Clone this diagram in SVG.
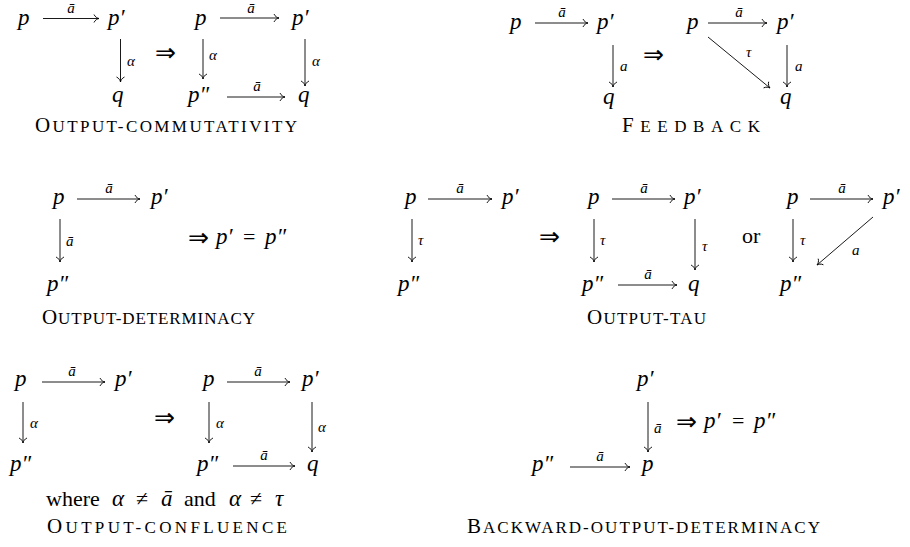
<svg xmlns="http://www.w3.org/2000/svg" width="910" height="547" viewBox="0 0 910 547">
<style>
  .m { font-family: "Liberation Serif", "DejaVu Serif", serif; font-style: italic; font-size: 23px; fill: #000; }
  .r { font-family: "Liberation Serif", "DejaVu Serif", serif; font-style: normal; font-size: 22px; fill: #000; }
  .imp { font-family: "DejaVu Sans", "Liberation Serif", sans-serif; font-weight: 200; font-style: normal; font-size: 25px; fill: #000; }
  .l { font-family: "Liberation Serif", "DejaVu Serif", serif; font-style: italic; font-size: 15px; fill: #000; }
  .cap { font-family: "Liberation Serif", "DejaVu Serif", serif; font-size: 21px; fill: #000; }
  .sc { font-size: 17px; }
  .a { fill: none; stroke: #000; stroke-width: 0.9; marker-end: url(#to); }
</style>
<defs>
  <marker id="to" markerUnits="userSpaceOnUse" viewBox="-6 -5 7 10" refX="0" refY="0" markerWidth="7" markerHeight="10" orient="auto">
    <path d="M-5,-4 C-4,-1.5 -1.5,-0.3 0,0 C-1.5,0.3 -4,1.5 -5,4" fill="none" stroke="#000" stroke-width="0.9"/>
  </marker>
</defs>

<!-- ============ OUTPUT-COMMUTATIVITY ============ -->
<g id="oc">
  <g id="oc-p"><text class="m" x="18" y="25">p</text></g>
  <g id="oc-p1"><text class="m" x="108" y="25">p′</text></g>
  <g id="oc-q"><text class="m" x="112" y="102">q</text></g>
  <g id="oc-imp"><text class="imp" x="155" y="61">⇒</text></g>
  <g id="oc-rp"><text class="m" x="195" y="25">p</text></g>
  <g id="oc-rp1"><text class="m" x="292" y="25">p′</text></g>
  <g id="oc-rp2"><text class="m" x="188" y="102">p″</text></g>
  <g id="oc-rq"><text class="m" x="298" y="102">q</text></g>
  <g id="oc-cap"><text class="cap" x="35" y="132" textLength="262" lengthAdjust="spacing">O<tspan class="sc">UTPUT-COMMUTATIVITY</tspan></text></g>
</g>

<!-- ============ FEEDBACK ============ -->
<g id="fb">
  <g id="fb-p"><text class="m" x="510" y="29">p</text></g>
  <g id="fb-p1"><text class="m" x="597" y="29">p′</text></g>
  <g id="fb-q"><text class="m" x="603" y="104">q</text></g>
  <g id="fb-imp"><text class="imp" x="643" y="63">⇒</text></g>
  <g id="fb-rp"><text class="m" x="687" y="29">p</text></g>
  <g id="fb-rp1"><text class="m" x="777" y="29">p′</text></g>
  <g id="fb-rq"><text class="m" x="780" y="104">q</text></g>
  <g id="fb-cap"><text class="cap" x="622" y="132" textLength="138" lengthAdjust="spacing">F<tspan class="sc">EEDBACK</tspan></text></g>
</g>

<!-- ============ OUTPUT-DETERMINACY ============ -->
<g id="od">
  <g id="od-p"><text class="m" x="53" y="204">p</text></g>
  <g id="od-p1"><text class="m" x="151" y="204">p′</text></g>
  <g id="od-p2"><text class="m" x="47" y="291">p″</text></g>
  <g id="od-eq"><text class="imp" x="188" y="246">⇒</text><text class="m" x="216" y="244">p′</text><text class="r" x="243" y="244">=</text><text class="m" x="265" y="244">p″</text></g>
  <g id="od-cap"><text class="cap" x="42" y="324" textLength="213" lengthAdjust="spacing">O<tspan class="sc">UTPUT-DETERMINACY</tspan></text></g>
</g>

<!-- ============ OUTPUT-TAU ============ -->
<g id="ot">
  <g id="ot-p"><text class="m" x="405" y="204">p</text></g>
  <g id="ot-p1"><text class="m" x="502" y="204">p′</text></g>
  <g id="ot-p2"><text class="m" x="398" y="291">p″</text></g>
  <g id="ot-imp"><text class="imp" x="539" y="245">⇒</text></g>
  <g id="ot-mp"><text class="m" x="588" y="204">p</text></g>
  <g id="ot-mp1"><text class="m" x="684" y="204">p′</text></g>
  <g id="ot-mp2"><text class="m" x="582" y="291">p″</text></g>
  <g id="ot-mq"><text class="m" x="688" y="291">q</text></g>
  <g id="ot-or"><text class="r" x="742" y="243">or</text></g>
  <g id="ot-rp"><text class="m" x="787" y="204">p</text></g>
  <g id="ot-rp1"><text class="m" x="883" y="204">p′</text></g>
  <g id="ot-rp2"><text class="m" x="780" y="291">p″</text></g>
  <g id="ot-cap"><text class="cap" x="587" y="324" textLength="119" lengthAdjust="spacing">O<tspan class="sc">UTPUT-TAU</tspan></text></g>
</g>

<!-- ============ OUTPUT-CONFLUENCE ============ -->
<g id="ocf">
  <g id="ocf-p"><text class="m" x="15" y="386">p</text></g>
  <g id="ocf-p1"><text class="m" x="115" y="386">p′</text></g>
  <g id="ocf-p2"><text class="m" x="10" y="471">p″</text></g>
  <g id="ocf-imp"><text class="imp" x="154" y="426">⇒</text></g>
  <g id="ocf-rp"><text class="m" x="203" y="386">p</text></g>
  <g id="ocf-rp1"><text class="m" x="302" y="386">p′</text></g>
  <g id="ocf-rp2"><text class="m" x="197" y="471">p″</text></g>
  <g id="ocf-rq"><text class="m" x="307" y="471">q</text></g>
  <g id="ocf-cond"><text class="r" y="506" font-size="23"><tspan x="46">where</tspan><tspan class="m" x="112">α</tspan><tspan x="136">≠</tspan><tspan class="m" x="161">ā</tspan><tspan x="184">and</tspan><tspan class="m" x="229">α</tspan><tspan x="250">≠</tspan><tspan class="m" x="275">τ</tspan></text></g>
  <g id="ocf-cap"><text class="cap" x="47" y="533" textLength="240" lengthAdjust="spacing">O<tspan class="sc">UTPUT-CONFLUENCE</tspan></text></g>
</g>

<!-- ============ BACKWARD-OUTPUT-DETERMINACY ============ -->
<g id="bod">
  <g id="bod-p1"><text class="m" x="637" y="386">p′</text></g>
  <g id="bod-p2"><text class="m" x="532" y="471">p″</text></g>
  <g id="bod-p"><text class="m" x="642" y="471">p</text></g>
  <g id="bod-eq"><text class="imp" x="676" y="430">⇒</text><text class="m" x="704" y="428">p′</text><text class="r" x="732" y="428">=</text><text class="m" x="754" y="428">p″</text></g>
  <g id="bod-cap"><text class="cap" x="467" y="533" textLength="353" lengthAdjust="spacing">B<tspan class="sc">ACKWARD-OUTPUT-DETERMINACY</tspan></text></g>
</g>

<!-- ============ CONNECTORS ============ -->
<g id="connectors">
  <!-- OC left -->
  <line class="a" x1="43" y1="18.5" x2="99" y2="18.5"/>
  <text class="l" x="71" y="13" text-anchor="middle">ā</text>
  <line class="a" x1="120.5" y1="39" x2="120.5" y2="82"/>
  <text class="l" x="127" y="66">α</text>
  <!-- OC right -->
  <line class="a" x1="220" y1="18" x2="279" y2="18"/>
  <text class="l" x="251" y="13" text-anchor="middle">ā</text>
  <line class="a" x1="203" y1="39" x2="203" y2="79"/>
  <text class="l" x="209" y="60">α</text>
  <line class="a" x1="305" y1="39" x2="305" y2="86"/>
  <text class="l" x="312" y="66">α</text>
  <line class="a" x1="227" y1="97" x2="285" y2="97"/>
  <text class="l" x="257" y="91" text-anchor="middle">ā</text>

  <!-- FB left -->
  <line class="a" x1="535" y1="23" x2="588" y2="23"/>
  <text class="l" x="562" y="17" text-anchor="middle">ā</text>
  <line class="a" x1="613" y1="45" x2="613" y2="87"/>
  <text class="l" x="620" y="71">a</text>
  <!-- FB right -->
  <line class="a" x1="708" y1="23" x2="767" y2="23"/>
  <text class="l" x="739" y="17" text-anchor="middle">ā</text>
  <line class="a" x1="708" y1="37" x2="770" y2="88"/>
  <text class="l" x="746" y="57">τ</text>
  <line class="a" x1="787" y1="45" x2="787" y2="87"/>
  <text class="l" x="795" y="71">a</text>

  <!-- OD -->
  <line class="a" x1="77" y1="199" x2="140" y2="199"/>
  <text class="l" x="109" y="193" text-anchor="middle">ā</text>
  <line class="a" x1="60" y1="219" x2="60" y2="262"/>
  <text class="l" x="66" y="246">ā</text>

  <!-- OT left -->
  <line class="a" x1="428" y1="199" x2="492" y2="199"/>
  <text class="l" x="460" y="193" text-anchor="middle">ā</text>
  <line class="a" x1="412" y1="219" x2="412" y2="262"/>
  <text class="l" x="418" y="245">τ</text>
  <!-- OT middle -->
  <line class="a" x1="612" y1="199" x2="675" y2="199"/>
  <text class="l" x="644" y="193" text-anchor="middle">ā</text>
  <line class="a" x1="594" y1="219" x2="594" y2="262"/>
  <text class="l" x="600" y="245">τ</text>
  <line class="a" x1="695" y1="219" x2="695" y2="270"/>
  <text class="l" x="702" y="251">τ</text>
  <line class="a" x1="618" y1="285" x2="677" y2="285"/>
  <text class="l" x="648" y="279" text-anchor="middle">ā</text>
  <!-- OT right -->
  <line class="a" x1="810" y1="199" x2="873" y2="199"/>
  <text class="l" x="842" y="193" text-anchor="middle">ā</text>
  <line class="a" x1="793" y1="219" x2="793" y2="262"/>
  <text class="l" x="800" y="245">τ</text>
  <line class="a" x1="873" y1="217" x2="817" y2="265"/>
  <text class="l" x="852" y="255">a</text>

  <!-- OCF left -->
  <line class="a" x1="42" y1="382" x2="105" y2="382"/>
  <text class="l" x="72" y="376" text-anchor="middle">ā</text>
  <line class="a" x1="23" y1="402" x2="23" y2="443"/>
  <text class="l" x="30" y="428">α</text>
  <!-- OCF right -->
  <line class="a" x1="227" y1="382" x2="290" y2="382"/>
  <text class="l" x="258" y="376" text-anchor="middle">ā</text>
  <line class="a" x1="209" y1="402" x2="209" y2="443"/>
  <text class="l" x="216" y="428">α</text>
  <line class="a" x1="312" y1="402" x2="312" y2="452"/>
  <text class="l" x="318" y="432">α</text>
  <line class="a" x1="233" y1="466" x2="295" y2="466"/>
  <text class="l" x="264" y="460" text-anchor="middle">ā</text>

  <!-- BOD -->
  <line class="a" x1="648" y1="402" x2="648" y2="452"/>
  <text class="l" x="654" y="433">ā</text>
  <line class="a" x1="570" y1="467" x2="630" y2="467"/>
  <text class="l" x="600" y="461" text-anchor="middle">ā</text>
</g>
</svg>
